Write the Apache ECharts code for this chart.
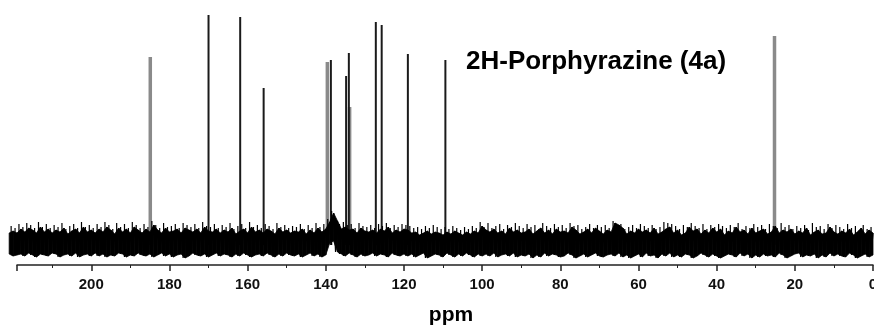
<!DOCTYPE html>
<html>
<head>
<meta charset="utf-8">
<script src="https://cdn.jsdelivr.net/npm/echarts@6/dist/echarts.min.js"></script>
<style>
  html, body { margin: 0; padding: 0; background: #fff; }
  #main { width: 874px; height: 329px; }
</style>
</head>
<body>
<div id="main"></div>
<script>
// peak positions (ppm) and heights (arbitrary intensity, axis line = 0)
var blackPeakPpm    = [170.0, 161.9, 155.9, 138.7, 134.8, 134.1, 127.2, 125.7, 119.0, 109.4];
var blackPeakHeight = [250,   248,   177,   205,   189,   212,   243,   240,   211,   205];
var grayPeakPpm     = [184.9, 139.6, 133.9, 25.2];
var grayPeakHeight  = [208,   203,   158,   229];
var peakBase = 20;

// baseline noise envelope, one value per ppm (index = ppm, 0..221)
var noiseTop = [
  32,35,31,37,33,30,36,32,34,31, 33,38,32,31,35,33,30,37,32,34,
  31,36,33,35,32,39,33,31,36,34, 32,37,31,35,33,38,32,34,30,36,
  33,37,32,35,31,36,34,38,32,30, 35,32,38,36,33,31,37,32,35,33,
  36,32,34,31,37,40,42,33,35,31, 34,37,32,36,33,31,35,38,32,34,
  33,36,31,35,32,37,34,31,36,33, 32,35,33,37,31,34,32,36,33,35,
  39,32,34,31,33,30,32,34,31,33, 30,32,33,31,34,32,30,33,32,35,
  36,33,35,32,38,34,36,32,35,33, 34,37,32,36,35,38,36,44,52,43,
  36,33,37,32,35,31,36,33,34,32, 35,33,37,31,34,36,32,35,33,38,
  32,36,34,31,37,33,35,32,36,33, 34,38,32,36,33,35,37,32,36,34,
  33,37,32,35,40,33,36,32,35,38, 32,36,33,37,31,35,38,33,36,32,
  35,33,38,32,36,34,31,37,33,35, 32,36,33,38,32,35,37,33,36,32,
  34,32
];
var noiseBottom = [
  10,8,11,9,7,10,12,8,9,11, 9,12,8,10,7,11,9,10,8,12,
  11,9,7,10,12,8,10,9,11,8, 10,7,11,9,12,8,10,11,9,7,
  9,11,8,10,12,9,7,10,11,8, 10,8,12,9,11,7,10,9,12,8,
  11,9,7,10,8,12,9,11,10,8, 9,12,10,8,11,9,7,10,12,9,
  8,10,11,9,12,8,10,7,11,9, 10,8,12,9,11,10,8,12,9,11,
  9,11,8,10,12,9,11,8,10,12, 8,10,11,9,7,12,10,8,11,9,
  11,9,10,12,8,10,11,9,12,10, 9,11,8,10,12,9,11,13,24,22,
  10,8,11,9,12,10,8,11,9,10, 12,9,11,8,10,12,9,11,10,8,
  10,12,9,11,8,10,11,9,12,10, 8,11,9,10,12,9,7,11,10,8,
  11,9,12,10,8,11,9,10,12,9, 10,8,11,12,9,10,8,11,9,12,
  9,11,10,8,12,9,11,10,8,11, 12,9,10,11,8,10,12,9,11,10,
  9,11
];
// thin noise hairs sticking out of the band, one per ppm (at ppm + 0.5)
var noiseSpike = [
  38,36,40,35,39,37,41,36,38,40, 37,41,36,39,38,42,35,40,37,39,
  36,40,38,42,37,39,41,36,40,38, 41,37,39,36,42,38,40,37,39,41,
  38,40,36,41,37,39,42,38,40,36, 39,41,42,43,38,36,40,37,39,41,
  37,40,38,36,41,39,44,37,40,38, 40,37,41,38,36,40,39,42,37,40,
  38,41,37,39,42,36,40,38,41,37, 39,42,38,40,36,41,39,37,42,38,
  43,37,39,36,38,35,37,39,36,38, 36,38,40,37,39,36,38,37,39,40,
  41,38,40,37,42,39,41,37,40,38, 39,42,37,41,40,43,41,45,54,46,
  41,38,42,37,40,36,41,38,39,37, 40,38,42,36,39,41,37,40,38,43,
  37,41,39,36,42,38,40,37,41,38, 39,43,37,41,38,40,42,37,41,39,
  38,42,37,40,44,38,41,37,40,43, 37,41,38,42,36,40,43,38,41,37,
  40,38,43,37,41,39,36,42,38,40, 37,41,38,43,37,40,42,38,41,37,
  39
];

var xTicks = { min: 0, max: 219, interval: 20 };

// band segments between neighbouring ppm samples, plus a zig-zag trace
var bandData = [], noiseData = [], hairData = [];
var n = Math.min(noiseTop.length, noiseBottom.length);
for (var i = 0; i < n; i++) {
  if (i < n - 1) {
    bandData.push([i, noiseTop[i], noiseBottom[i], i + 1, noiseTop[i + 1], noiseBottom[i + 1]]);
  }
  noiseData.push([i, noiseTop[i]]);
  if (i < n - 1) noiseData.push([i + 0.5, noiseBottom[i]]);
}
for (var j = 0; j < noiseSpike.length && j < n - 1; j++) hairData.push([j + 0.5, noiseSpike[j]]);

function peakData(ppm, h) {
  var d = [];
  for (var i = 0; i < ppm.length; i++) d.push([ppm[i], h[i]]);
  return d;
}
function stickRenderer(width, color) {
  return function (params, api) {
    var top = api.coord([api.value(0), api.value(1)]);
    var bot = api.coord([api.value(0), peakBase]);
    return {
      type: 'line',
      shape: { x1: top[0], y1: top[1], x2: bot[0], y2: bot[1] },
      style: { stroke: color, lineWidth: width }
    };
  };
}
function bandRenderer(params, api) {
  var a = api.coord([api.value(0), api.value(1)]);
  var b = api.coord([api.value(3), api.value(4)]);
  var c = api.coord([api.value(3), api.value(5)]);
  var d = api.coord([api.value(0), api.value(2)]);
  return {
    type: 'polygon',
    shape: { points: [a, b, c, d] },
    style: { fill: '#000', stroke: '#000', lineWidth: 0.8 }
  };
}

var myChart = echarts.init(document.getElementById('main'));
var option = {
  animation: false,
  backgroundColor: '#fff',
  grid: { left: 17, right: 1, top: 0, bottom: 64, outerBoundsMode: 'none', containLabel: false },
  xAxis: {
    type: 'value',
    inverse: true,
    min: xTicks.min,
    max: xTicks.max,
    interval: xTicks.interval,
    axisLine: { lineStyle: { color: '#222', width: 1.5 } },
    axisTick: { length: 6, lineStyle: { color: '#222', width: 1.5 } },
    minorTick: { show: true, splitNumber: 2, length: 3, lineStyle: { color: '#222', width: 1 } },
    splitLine: { show: false },
    axisLabel: {
      showMaxLabel: false,
      margin: 12,
      fontFamily: 'Liberation Sans, Arial',
      fontWeight: 'bold',
      fontSize: 15,
      color: '#111'
    }
  },
  yAxis: {
    type: 'value',
    min: 0,
    max: 265,
    show: false
  },
  graphic: [
    {
      type: 'text', left: 466, top: 49,
      style: {
        text: '2H-Porphyrazine (4a)',
        font: 'bold 26px "Liberation Sans", Arial',
        fill: '#000'
      }
    },
    {
      type: 'text', x: 451, y: 315,
      style: {
        text: 'ppm',
        font: 'bold 21px "Liberation Sans", Arial',
        fill: '#000',
        align: 'center',
        verticalAlign: 'middle'
      }
    }
  ],
  series: [
    {
      name: 'grayPeaks',
      type: 'custom',
      z: 2,
      clip: false,
      renderItem: stickRenderer(3.5, '#8a8a8a'),
      data: peakData(grayPeakPpm, grayPeakHeight)
    },
    {
      name: 'blackPeaks',
      type: 'custom',
      z: 3,
      clip: false,
      renderItem: stickRenderer(2, '#1a1a1a'),
      data: peakData(blackPeakPpm, blackPeakHeight)
    },
    {
      name: 'noiseBand',
      type: 'custom',
      z: 4,
      clip: false,
      renderItem: bandRenderer,
      data: bandData
    },
    {
      name: 'noiseHairs',
      type: 'custom',
      z: 4,
      clip: false,
      renderItem: stickRenderer(1.2, '#000'),
      data: hairData
    },
    {
      name: 'noise',
      type: 'line',
      z: 5,
      clip: false,
      symbol: 'none',
      lineStyle: { color: '#000', width: 1.2 },
      data: noiseData
    }
  ]
};
myChart.setOption(option);
</script>
</body>
</html>
